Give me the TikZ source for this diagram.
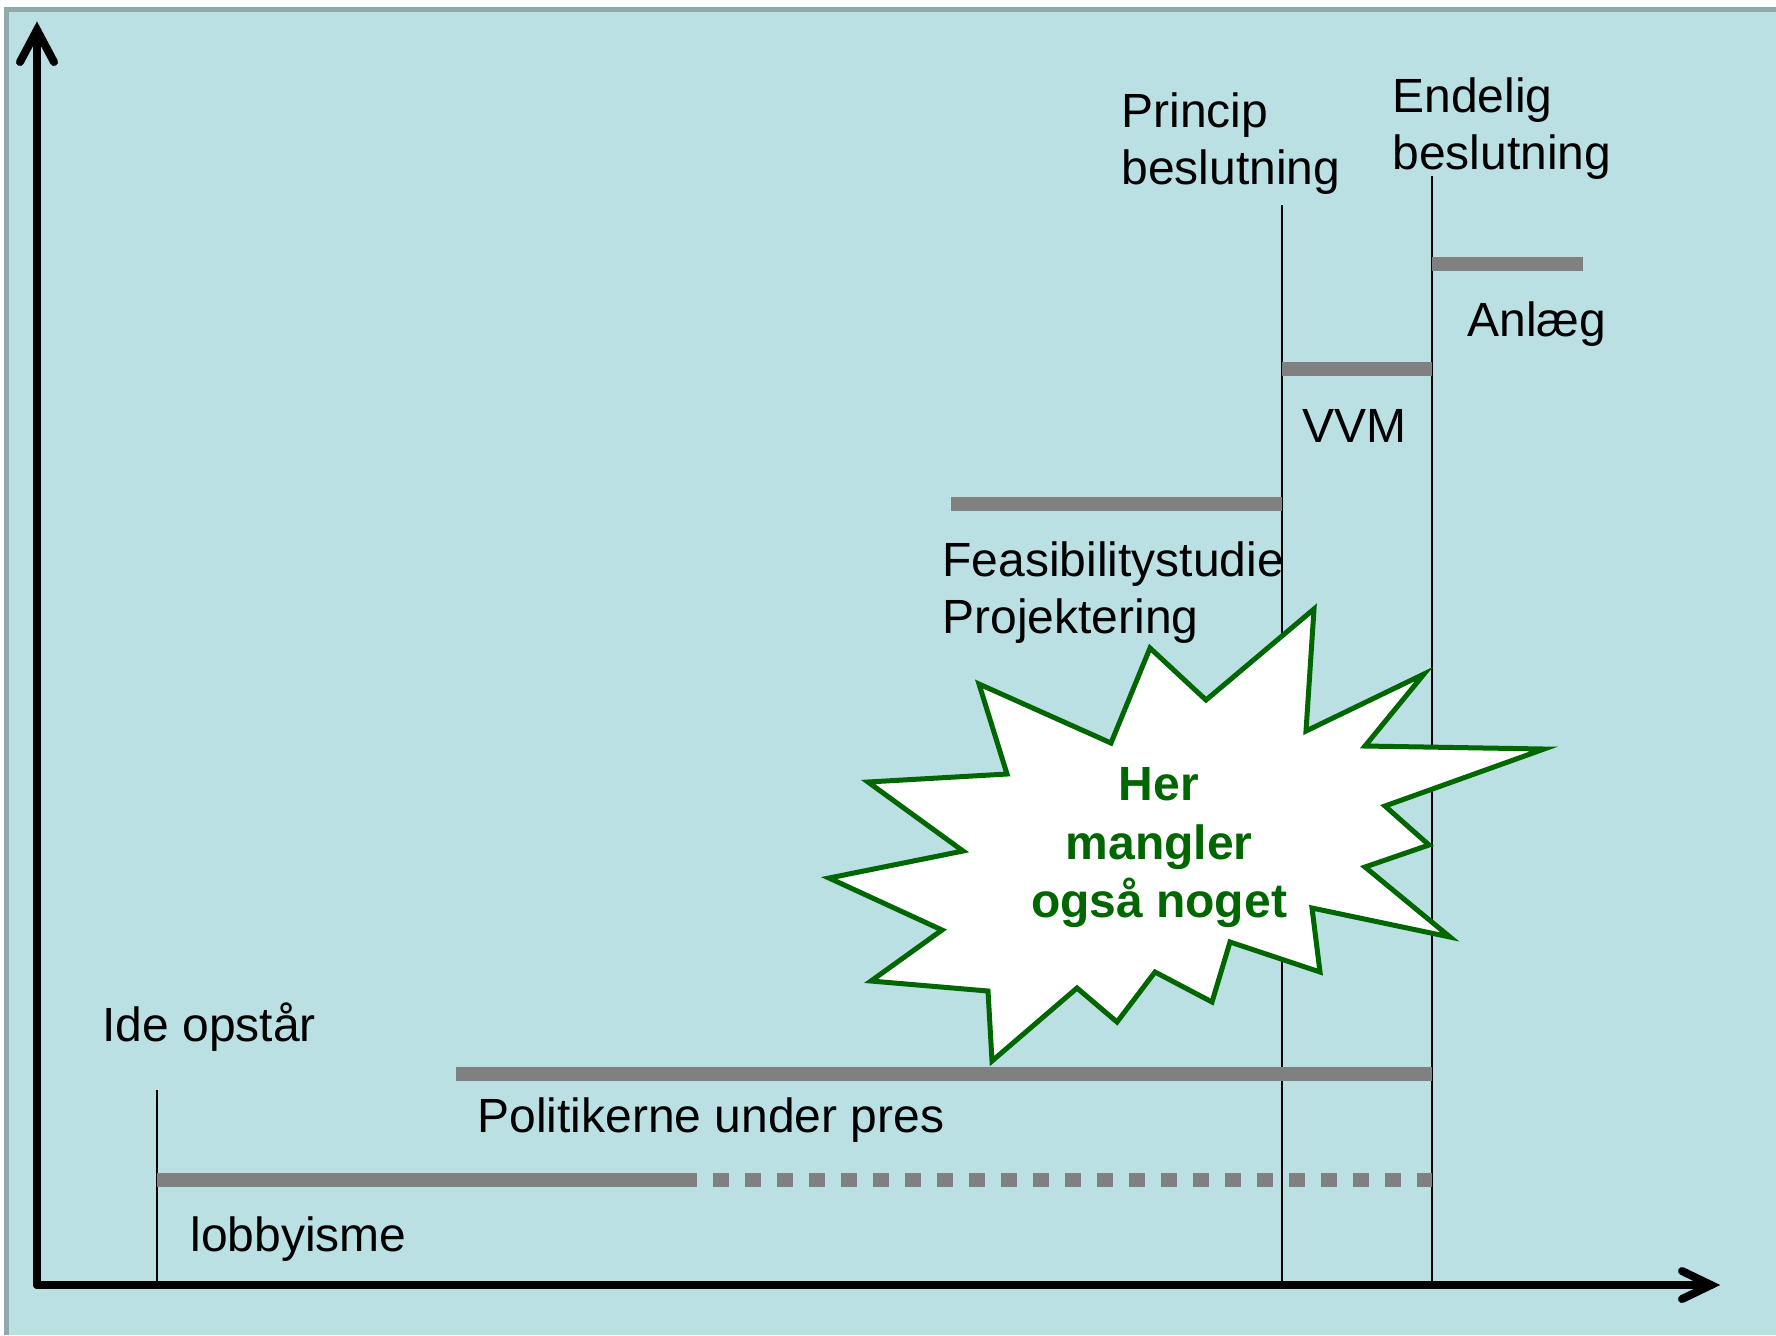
\documentclass[tikz,border=0pt]{standalone}
\usepackage{fontspec}
\setmainfont{Liberation Sans}
\usetikzlibrary{arrows.meta}
\definecolor{bgc}{RGB}{187,224,227}
\definecolor{bdc}{RGB}{143,169,172}
\definecolor{barc}{RGB}{128,128,128}
\definecolor{grn}{RGB}{0,102,0}
\begin{document}
\begin{tikzpicture}[x=0.5pt,y=-0.5pt,
  axisline/.style={line width=4pt,line cap=round},
  vline/.style={line width=1.1pt,black},
  barline/.style={line width=7pt,barc},
  dbarline/.style={line width=7pt,barc,dash pattern=on 8pt off 8pt},
  lbl/.style={anchor=base west,inner sep=0pt,font=\fontsize{24}{28.5}\selectfont},
  burst/.style={draw=grn,line width=2.5pt,fill=white,line join=miter},
  bursttext/.style={inner sep=0pt,align=center,text=grn,font=\fontsize{24}{29.25}\selectfont\bfseries}]
\useasboundingbox (0,0) rectangle (1776,1335);
% background
\fill[white] (0,0) rectangle (1776,1335);
\fill[bgc] (4,7) rectangle (1776,1335);
\fill[bdc] (4,7) rectangle (1776,12);
\fill[bdc] (4,7) rectangle (9,1335);
% coordinates
\coordinate (origin) at (37,1285);
\coordinate (ytip) at (37,30);
\coordinate (xtip) at (1711,1285);
\coordinate (idetop) at (157,1090);
\coordinate (idebot) at (157,1285);
\coordinate (ptop) at (1282,205);
\coordinate (pbot) at (1282,1285);
\coordinate (etop) at (1432,176);
\coordinate (ebot) at (1432,1285);
\coordinate (anlA) at (1432,264);
\coordinate (anlB) at (1583,264);
\coordinate (vvmA) at (1282,369);
\coordinate (vvmB) at (1432,369);
\coordinate (feaA) at (951,504);
\coordinate (feaB) at (1282,504);
\coordinate (polA) at (456,1074);
\coordinate (polB) at (1432,1074);
\coordinate (lobA) at (157,1180);
\coordinate (lobM) at (681,1180);
\coordinate (lobB) at (1432,1180);
% vertical lines
\draw[vline] (idetop) -- (idebot);
\draw[vline,line width=1.3pt] (ptop) -- (pbot);
\draw[vline] (etop) -- (ebot);
% bars
\draw[barline] (anlA) -- (anlB);
\draw[barline] (vvmA) -- (vvmB);
\draw[barline] (feaA) -- (feaB);
\draw[barline] (polA) -- (polB);
\draw[barline] (lobA) -- (lobM);
\draw[dbarline] (lobM) -- (lobB);
% axes
\draw[axisline] (origin) -- (ytip);
\draw[axisline] (20,62) -- (ytip) -- (54,62);
\draw[axisline] (origin) -- (xtip);
\draw[axisline] (1682,1271) -- (xtip) -- (1682,1299);
% burst
\draw[burst] (1314,609) -- (1306,731) -- (1424,674) -- (1365,746) -- (1544,749)
  -- (1385,806) -- (1429,845) -- (1365,867) -- (1450,937) -- (1312,908)
  -- (1320,972) -- (1230,942) -- (1212,1002) -- (1155,972) -- (1117,1022)
  -- (1077,988) -- (992,1061) -- (988,991) -- (871,981) -- (942,930)
  -- (829,878) -- (963,851) -- (868,782) -- (1007,774) -- (979,684)
  -- (1111,743) -- (1150,648) -- (1206,700) -- cycle;
\node[bursttext] (burstlabel) at (1159,848) {Her\\mangler\\også noget};
% labels
\node[lbl] (princip1) at (1121,127) {Princip};
\node[lbl] (princip2) at (1121,184) {beslutning};
\node[lbl] (endelig1) at (1392,112) {Endelig};
\node[lbl] (endelig2) at (1392,169) {beslutning};
\node[lbl] (anlaeg) at (1467,336) {Anlæg};
\node[lbl] (vvm) at (1302,442) {VVM};
\node[lbl] (feas) at (942,576) {Feasibilitystudie};
\node[lbl] (proj) at (942,633) {Projektering};
\node[lbl] (ide) at (102,1041) {Ide opstår};
\node[lbl] (pol) at (477,1132) {Politikerne under pres};
\node[lbl] (lobby) at (190,1251) {lobbyisme};
\end{tikzpicture}
\end{document}
